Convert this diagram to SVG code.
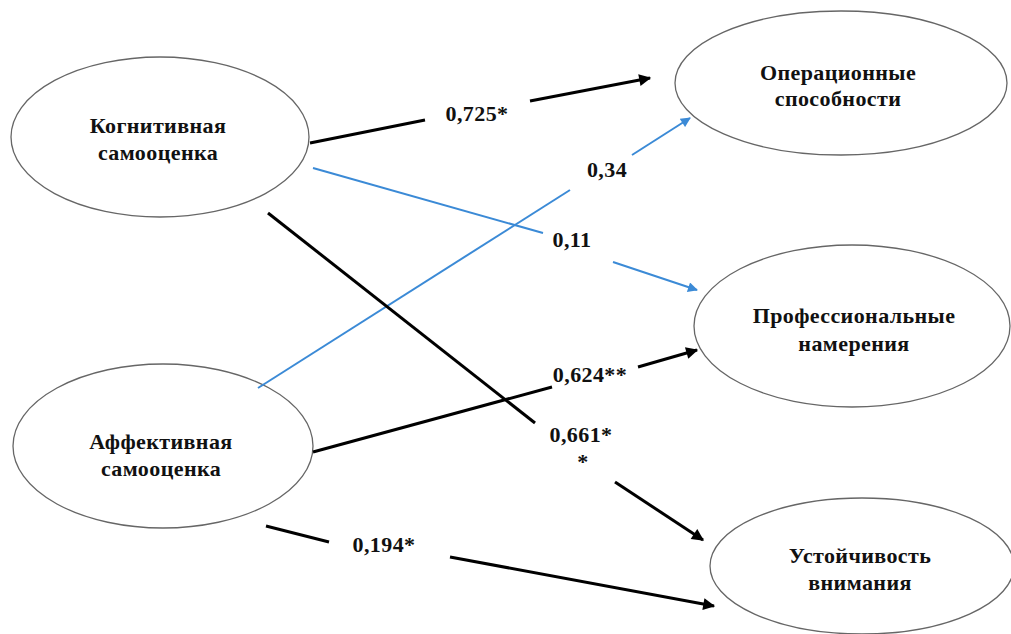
<svg xmlns="http://www.w3.org/2000/svg" width="1011" height="634" viewBox="0 0 1011 634">
<defs>
<marker id="ab" viewBox="0 0 10 10" refX="9" refY="5" markerWidth="5" markerHeight="4" markerUnits="strokeWidth" orient="auto"><path d="M0,0 L10,5 L0,10 z" fill="#000"/></marker>
<marker id="au" viewBox="0 0 10 10" refX="9" refY="5" markerWidth="6" markerHeight="5" markerUnits="strokeWidth" orient="auto"><path d="M0,0 L10,5 L0,10 z" fill="#3b8ad6"/></marker>
</defs>
<style>
.node ellipse{fill:#fff;stroke:#666;stroke-width:1.3}
.node text{font-family:'Liberation Serif','DejaVu Serif','Times New Roman',serif;font-weight:bold;font-size:22px;letter-spacing:0.4px;fill:#111;text-anchor:middle}
.blk{stroke:#000;stroke-width:3;fill:none}
.blu{stroke:#3b8ad6;stroke-width:2;fill:none}
.lbl{font-family:'Liberation Serif','DejaVu Serif','Times New Roman',serif;font-weight:bold;font-size:22px;letter-spacing:0.4px;fill:#111;text-anchor:middle}
</style>
<rect width="1011" height="634" fill="#fff"/>
<g id="n-kog" class="node"><ellipse cx="160" cy="137" rx="149" ry="80"/><text x="158" y="133">Когнитивная</text><text x="158" y="160">самооценка</text></g>
<g id="n-aff" class="node"><ellipse cx="163" cy="446" rx="150" ry="82"/><text x="161" y="449">Аффективная</text><text x="161" y="476">самооценка</text></g>
<g id="n-op" class="node"><ellipse cx="841" cy="83" rx="166" ry="72"/><text x="838" y="80">Операционные</text><text x="838" y="106">способности</text></g>
<g id="n-prof" class="node"><ellipse cx="852" cy="326" rx="158" ry="81"/><text x="854" y="323">Профессиональные</text><text x="854" y="351">намерения</text></g>
<g id="n-ust" class="node"><ellipse cx="862" cy="566" rx="152" ry="68"/><text x="860" y="563">Устойчивость</text><text x="860" y="590">внимания</text></g>
<g id="connectors">
<line class="blk" x1="310" y1="143" x2="425" y2="120"/>
<line class="blk" x1="530" y1="101" x2="650" y2="78" marker-end="url(#ab)"/>
<text class="lbl" x="477" y="121">0,725*</text>
<line class="blu" x1="313" y1="168" x2="543" y2="233"/>
<line class="blu" x1="613" y1="262" x2="697" y2="290" marker-end="url(#au)"/>
<text class="lbl" x="572" y="247">0,11</text>
<line class="blu" x1="258" y1="388" x2="570" y2="190"/>
<line class="blu" x1="632" y1="155" x2="690" y2="118" marker-end="url(#au)"/>
<text class="lbl" x="607" y="177">0,34</text>
<line class="blk" x1="268" y1="213" x2="535" y2="423"/>
<line class="blk" x1="615" y1="482" x2="703" y2="540" marker-end="url(#ab)"/>
<text class="lbl" x="581" y="442">0,661*</text>
<text class="lbl" x="583" y="469">*</text>
<line class="blk" x1="313" y1="452" x2="552" y2="387"/>
<line class="blk" x1="638" y1="367" x2="697" y2="350" marker-end="url(#ab)"/>
<text class="lbl" x="590" y="382">0,624**</text>
<line class="blk" x1="266" y1="526" x2="329" y2="542"/>
<line class="blk" x1="450" y1="557" x2="714" y2="606" marker-end="url(#ab)"/>
<text class="lbl" x="384" y="552">0,194*</text>
</g>
</svg>
